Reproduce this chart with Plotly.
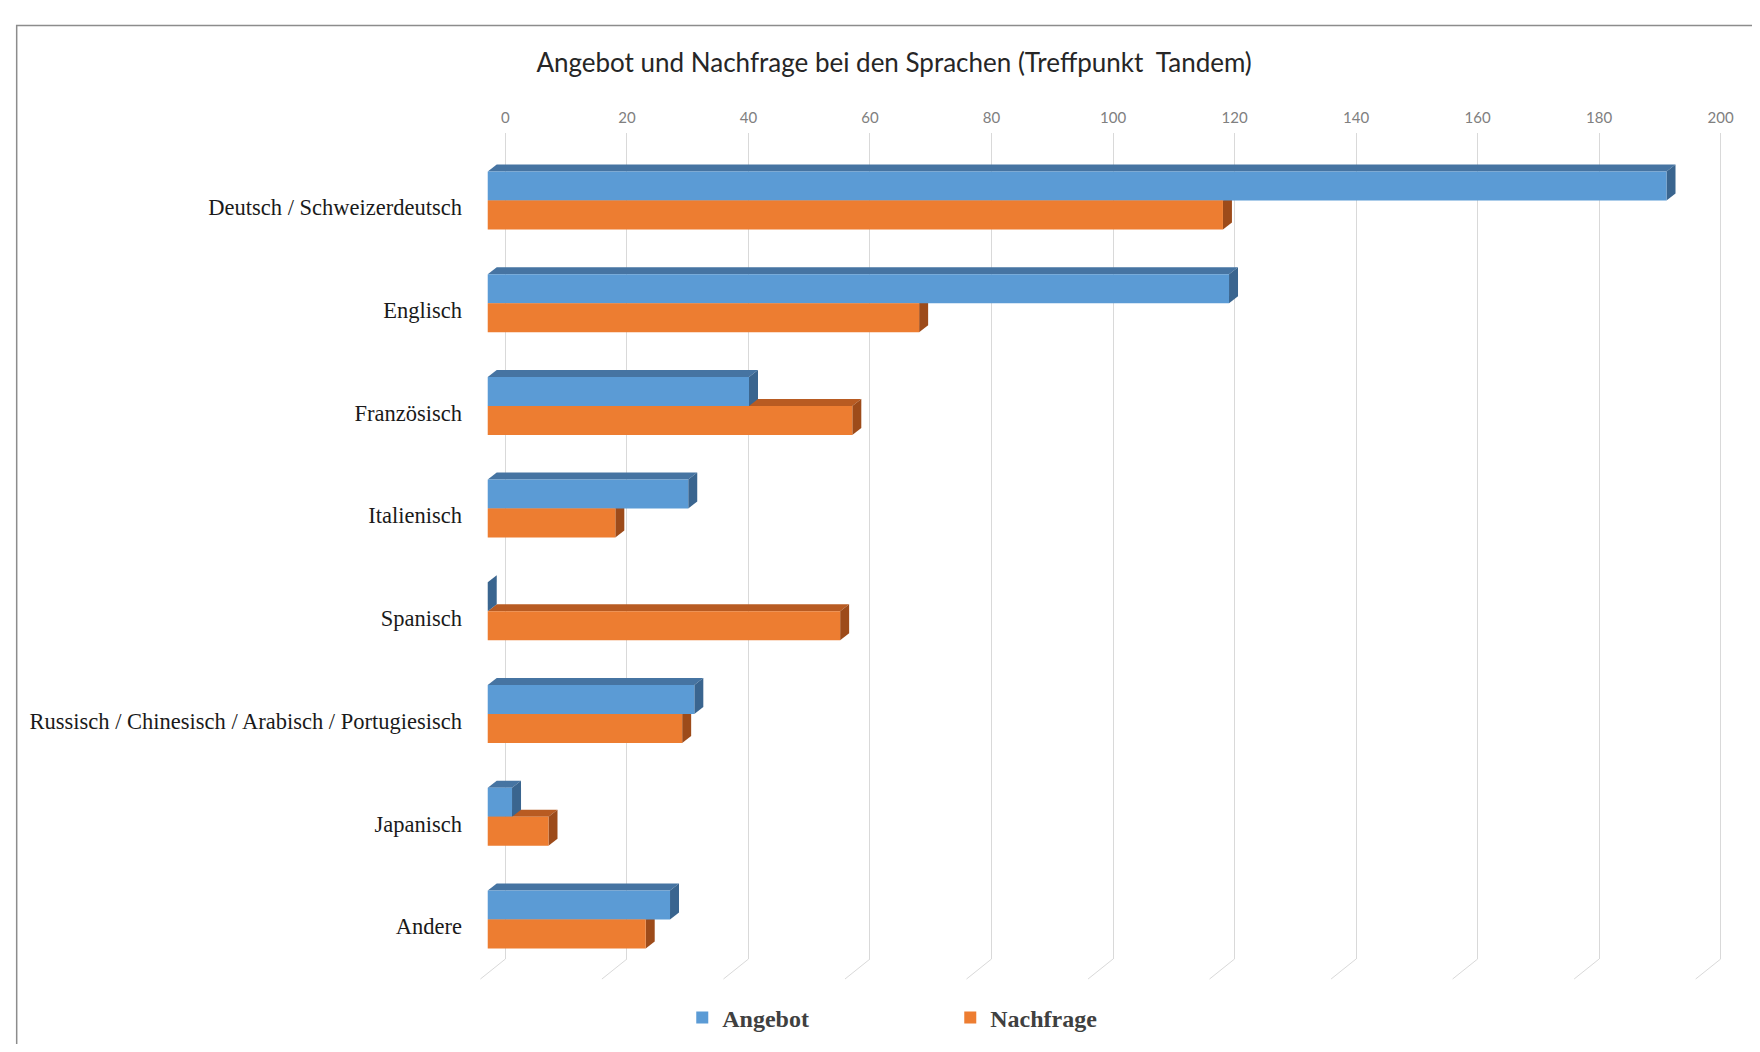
import plotly.graph_objects as go

# ---------------- data ----------------
categories = [
    "Deutsch / Schweizerdeutsch",
    "Englisch",
    "Französisch",
    "Italienisch",
    "Spanisch",
    "Russisch / Chinesisch / Arabisch / Portugiesisch",
    "Japanisch",
    "Andere",
]
angebot = [194, 122, 43, 33, 0, 34, 4, 30]
nachfrage = [121, 71, 60, 21, 58, 32, 10, 26]
tick_values = [0, 20, 40, 60, 80, 100, 120, 140, 160, 180, 200]
series_names = ["Angebot", "Nachfrage"]
title_text = "Angebot und Nachfrage bei den Sprachen (Treffpunkt  Tandem)"

# ---------------- geometry / styling ----------------
PAGE_MARGIN = 8                    # default body margin of the html page
W, H = 1760 - 2 * PAGE_MARGIN, 1052 - 2 * PAGE_MARGIN
X_RANGE = [-5.5, 204.5]
PX_PER_UNIT = 6.08


def P(px):                          # reference page pixel -> figure pixel
    return px - PAGE_MARGIN


PLOT_LEFT, PLOT_TOP, PLOT_BOTTOM = P(471.6), P(133), P(959)
PLOT_W = (X_RANGE[1] - X_RANGE[0]) * PX_PER_UNIT
CAT_PX = 102.7                     # pixels between category centres
FIRST_CENTER_PX = P(200.5)
Y_RANGE = [(PLOT_BOTTOM - FIRST_CENTER_PX) / CAT_PX, (PLOT_TOP - FIRST_CENTER_PX) / CAT_PX]

BAR_H = 29 / CAT_PX                # front face height in y units
FRONT = 17.7 / PX_PER_UNIT         # front face shift (3D depth) in x units
DX = 9 / PX_PER_UNIT               # depth of bar (x)
DY = 7 / CAT_PX                    # depth of bar (y)
FLOOR_DX = 25 / PX_PER_UNIT
FLOOR_DY_PX = 20

colors = {
    "Angebot": {"front": "#5B9BD5", "top": "#4674A2", "side": "#3A658F"},
    "Nachfrage": {"front": "#ED7D31", "top": "#B85B22", "side": "#9D4B1A"},
}


def px_x(px):
    return (px - PLOT_LEFT) / PLOT_W


def px_y(py):
    return (PLOT_BOTTOM - py) / (PLOT_BOTTOM - PLOT_TOP)


def x2paper(v):
    return (v - X_RANGE[0]) / (X_RANGE[1] - X_RANGE[0])


idx = list(range(len(categories)))

fig = go.Figure()
for name, vals, off in [("Angebot", angebot, -BAR_H), ("Nachfrage", nachfrage, 0.0)]:
    fig.add_trace(go.Bar(
        name=name,
        orientation="h",
        y=idx,
        x=vals,
        base=[-FRONT] * len(vals),
        width=BAR_H,
        offset=off,
        marker=dict(color=colors[name]["front"], line=dict(width=0)),
        customdata=vals,
        hovertemplate="%{text}: %{customdata}<extra>" + name + "</extra>",
        text=categories,
        textposition="none",
    ))

shapes = []
# 3D faces (top + side), drawn from the data values
for name, vals, off in [("Nachfrage", nachfrage, 0.0), ("Angebot", angebot, -BAR_H)]:
    for i, v in zip(idx, vals):
        ytop = i + off
        ybot = ytop + BAR_H
        x0 = -FRONT
        x1 = v - FRONT
        top = (f"M {x0},{ytop} L {x1},{ytop} L {x1 + DX},{ytop - DY} "
               f"L {x0 + DX},{ytop - DY} Z")
        side = (f"M {x1},{ytop} L {x1},{ybot} L {x1 + DX},{ybot - DY} "
                f"L {x1 + DX},{ytop - DY} Z")
        for path, col in [(top, colors[name]["top"]), (side, colors[name]["side"])]:
            shapes.append(dict(type="path", path=path, xref="x", yref="y",
                               fillcolor=col, line=dict(width=0), layer="between"))

# floor gridlines (perspective)
for t in tick_values:
    shapes.append(dict(type="line", xref="paper", yref="paper",
                       x0=x2paper(t), y0=0, x1=x2paper(t - FLOOR_DX),
                       y1=px_y(PLOT_BOTTOM + FLOOR_DY_PX),
                       line=dict(color="#D9D9D9", width=1), layer="below"))

# chart frame
shapes.append(dict(type="rect", xref="paper", yref="paper",
                   x0=px_x(P(16)), x1=px_x(P(1800)), y0=px_y(P(1100)), y1=px_y(P(25.5)),
                   line=dict(color="#8C8C8C", width=1.5), fillcolor="rgba(0,0,0,0)",
                   layer="below"))

fig.update_layout(
    width=W, height=H,
    margin=dict(l=PLOT_LEFT, r=max(0, W - PLOT_LEFT - PLOT_W), t=PLOT_TOP,
                b=H - PLOT_BOTTOM, pad=0),
    paper_bgcolor="white", plot_bgcolor="white",
    barmode="overlay",
    showlegend=True,
    title=dict(text=title_text, x=px_x(P(894)), xref="paper", xanchor="center",
               y=1 - P(63) / H, yref="container", yanchor="middle",
               font=dict(family="Lato", size=26, color="#262626")),
    xaxis=dict(side="top", range=X_RANGE, tickvals=tick_values,
               showgrid=True, gridcolor="#D9D9D9", gridwidth=1,
               zeroline=False, showline=False, ticks="",
               tickfont=dict(family="Lato", size=15, color="#808080"),
               ticklabelstandoff=6, fixedrange=True),
    yaxis=dict(range=Y_RANGE, tickvals=idx, ticktext=categories,
               showgrid=False, zeroline=False, showline=False, ticks="",
               tickfont=dict(family="Liberation Serif", size=22.5, color="#1A1A1A"),
               ticklabelstandoff=9, ticklabelshift=-7, fixedrange=True),
    legend=dict(orientation="h", x=px_x(P(682)), xanchor="left",
                y=px_y(P(1018)), yanchor="middle",
                entrywidth=223, entrywidthmode="pixels",
                font=dict(family="Liberation Serif", size=24, color="#404040", weight="bold"),
                bgcolor="rgba(0,0,0,0)"),
    shapes=shapes,
)

fig.write_html("out.html")
